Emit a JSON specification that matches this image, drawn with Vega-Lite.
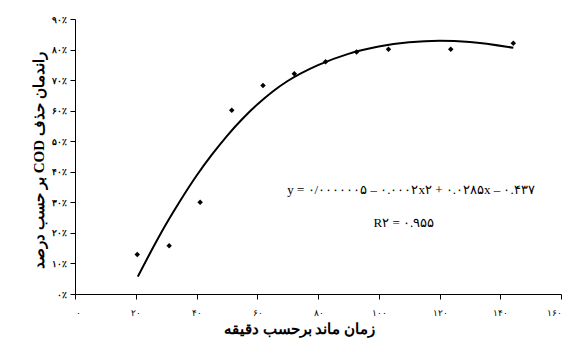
{
  "$schema": "https://vega.github.io/schema/vega-lite/v6.json",
  "width": 486,
  "height": 275,
  "autosize": {"type": "none"},
  "padding": {"left": 75, "top": 19, "right": 23, "bottom": 60},
  "background": "white",
  "config": {"view": {"stroke": null}, "font": "Liberation Serif"},
  "datasets": {
    "obs": [
      {"x": 20.5, "y": 12.9},
      {"x": 31, "y": 15.8},
      {"x": 41.2, "y": 30},
      {"x": 51.6, "y": 60.1},
      {"x": 61.9, "y": 68.2},
      {"x": 72.2, "y": 72.1},
      {"x": 82.5, "y": 76},
      {"x": 92.7, "y": 79.2},
      {"x": 103.2, "y": 80.1},
      {"x": 123.7, "y": 80.1},
      {"x": 144.3, "y": 82.1}
    ],
    "curve": [
      {"x": 20.7, "y": 5.7},
      {"x": 25, "y": 13.9},
      {"x": 30, "y": 22.9},
      {"x": 35, "y": 31.1},
      {"x": 40, "y": 38.7},
      {"x": 45, "y": 45.5},
      {"x": 50, "y": 51.7},
      {"x": 55, "y": 57.2},
      {"x": 60, "y": 62.0},
      {"x": 65, "y": 66.2},
      {"x": 70, "y": 69.7},
      {"x": 80, "y": 74.9},
      {"x": 90, "y": 78.6},
      {"x": 100, "y": 81.0},
      {"x": 110, "y": 82.4},
      {"x": 120, "y": 82.9},
      {"x": 130, "y": 82.5},
      {"x": 144.3, "y": 80.6}
    ],
    "notes": [
      {"x": 110.6, "y": 34, "label": "y = ۰/۰۰۰۰۰۰۵ – ۰.۰۰۰۲x۲ + ۰.۰۲۸۵x – ۰.۴۳۷"},
      {"x": 108.3, "y": 23.2, "label": "R۲ = ۰.۹۵۵"}
    ]
  },
  "encoding": {
    "x": {
      "field": "x",
      "type": "quantitative",
      "scale": {"domain": [0, 160], "nice": false, "zero": false},
      "axis": {
        "values": [0, 20, 40, 60, 80, 100, 120, 140, 160],
        "grid": false,
        "domainColor": "black",
        "tickColor": "black",
        "tickSize": 5,
        "labelFontSize": 9,
        "labelColor": "black",
        "labelPadding": 9,
        "labelExpr": "replace(replace(replace(replace(replace(replace(replace(replace(replace(replace(toString(datum.value),regexp('0','g'),'۰'),regexp('1','g'),'۱'),regexp('2','g'),'۲'),regexp('3','g'),'۳'),regexp('4','g'),'۴'),regexp('5','g'),'۵'),regexp('6','g'),'۶'),regexp('7','g'),'۷'),regexp('8','g'),'۸'),regexp('9','g'),'۹')",
        "title": "زمان ماند برحسب دقیقه",
        "titleFontSize": 15,
        "titleFontWeight": "bold",
        "titleColor": "black",
        "titlePadding": 4,
        "titleX": 224
      }
    },
    "y": {
      "field": "y",
      "type": "quantitative",
      "scale": {"domain": [0, 90], "nice": false},
      "axis": {
        "values": [0, 10, 20, 30, 40, 50, 60, 70, 80, 90],
        "grid": false,
        "domainColor": "black",
        "tickColor": "black",
        "tickSize": 5,
        "labelFontSize": 9,
        "labelFontWeight": "bold",
        "labelColor": "black",
        "labelPadding": 4,
        "labelExpr": "replace(replace(replace(replace(replace(replace(replace(replace(replace(replace(toString(datum.value),regexp('0','g'),'۰'),regexp('1','g'),'۱'),regexp('2','g'),'۲'),regexp('3','g'),'۳'),regexp('4','g'),'۴'),regexp('5','g'),'۵'),regexp('6','g'),'۶'),regexp('7','g'),'۷'),regexp('8','g'),'۸'),regexp('9','g'),'۹') + '٪'",
        "title": "\u202bراندمان حذف COD بر حسب درصد\u202c",
        "titleFontSize": 15,
        "titleFontWeight": "bold",
        "titleColor": "black",
        "titlePadding": 5,
        "titleY": 141
      }
    }
  },
  "layer": [
    {
      "data": {"name": "curve"},
      "mark": {"type": "line", "color": "black", "strokeWidth": 2, "interpolate": "monotone"}
    },
    {
      "data": {"name": "obs"},
      "mark": {"type": "point", "shape": "diamond", "filled": true, "color": "black", "size": 30, "opacity": 1}
    },
    {
      "data": {"name": "notes"},
      "mark": {"type": "text", "fontSize": 13, "font": "Liberation Serif", "color": "black", "align": "center", "baseline": "middle"},
      "encoding": {"text": {"field": "label"}}
    }
  ]
}
